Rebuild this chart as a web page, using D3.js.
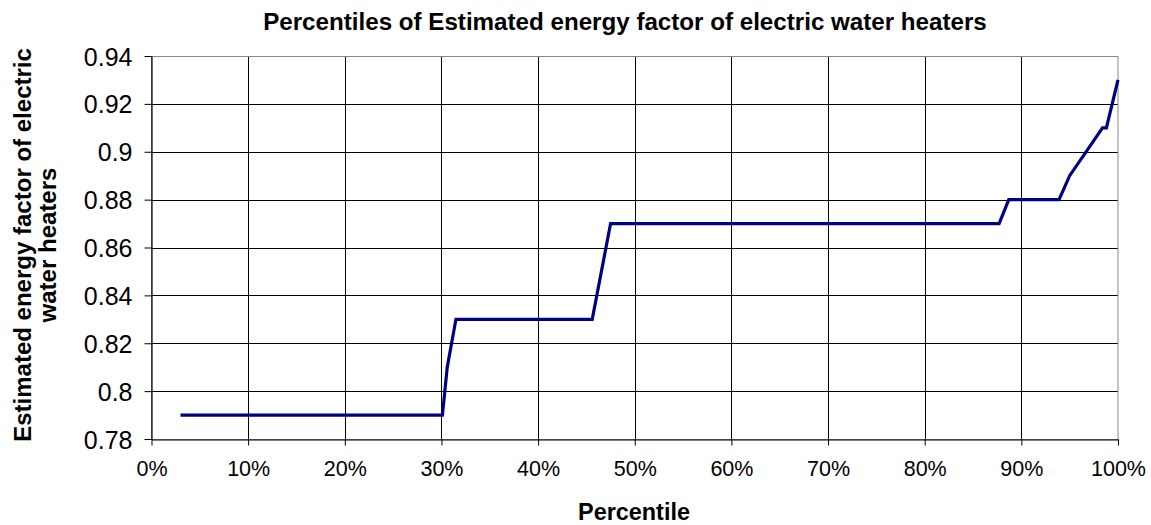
<!DOCTYPE html>
<html>
<head>
<meta charset="utf-8">
<script src="https://cdn.jsdelivr.net/npm/d3@7"></script>
<style>
  html, body { margin: 0; padding: 0; background: #fff; }
  svg { display: block; font-family: Arial, "Liberation Sans", sans-serif; }
</style>
</head>
<body>
<svg id="chart" width="1151" height="525"></svg>
<script>
// Data
const percentiles = [3, 30.1, 30.6, 31.5, 45.6, 47.5, 87.7, 88.7, 93.9, 95.0, 98.4, 98.8, 100];
const energyFactor = [0.79, 0.79, 0.81, 0.83, 0.83, 0.87, 0.87, 0.88, 0.88, 0.89, 0.91, 0.91, 0.93];
const xTicks = [0, 10, 20, 30, 40, 50, 60, 70, 80, 90, 100];
const yTicks = [0.78, 0.80, 0.82, 0.84, 0.86, 0.88, 0.90, 0.92, 0.94];
const yTickLabels = ["0.78", "0.8", "0.82", "0.84", "0.86", "0.88", "0.9", "0.92", "0.94"];
const titleText = "Percentiles of Estimated energy factor of electric water heaters";
const xTitle = "Percentile";
const yTitleLines = ["Estimated energy factor of electric", "water heaters"];

const svg = d3.select("#chart");
const L = 151.5, R = 1118, T = 56, B = 439;

const x = d3.scaleLinear().domain([0, 100]).range([L, R]);
const y = d3.scaleLinear().domain([0.78, 0.94]).range([B, T]);

// gridlines
const g = svg.append("g");
g.selectAll("line.v").data(xTicks.slice(1, -1)).join("line")
  .attr("x1", d => Math.round(x(d)) + 0.5).attr("x2", d => Math.round(x(d)) + 0.5)
  .attr("y1", T).attr("y2", B).attr("stroke", "#000").attr("stroke-width", 1);
g.selectAll("line.h").data(yTicks.slice(1, -1)).join("line")
  .attr("y1", d => Math.round(y(d)) + 0.5).attr("y2", d => Math.round(y(d)) + 0.5)
  .attr("x1", L).attr("x2", R).attr("stroke", "#000").attr("stroke-width", 1);
// plot border (top/right gray)
svg.append("rect").attr("x", L).attr("y", T + 0.5).attr("width", R - L).attr("height", B - T)
  .attr("fill", "none").attr("stroke", "#888").attr("stroke-width", 1);

// axes
const xAxis = svg.append("g").attr("transform", `translate(0,${B + 0.5})`)
  .call(d3.axisBottom(x).tickValues(xTicks).tickSize(6).tickSizeOuter(0).tickPadding(15)
    .tickFormat(d => d + "%"));
const yAxis = svg.append("g").attr("transform", `translate(${L},0)`)
  .call(d3.axisLeft(y).tickValues(yTicks).tickSize(7).tickSizeOuter(0).tickPadding(12)
    .tickFormat((d, i) => yTickLabels[i]));
[xAxis, yAxis].forEach(a => {
  a.select(".domain").attr("stroke", "#000").attr("stroke-width", 1.2);
  a.selectAll(".tick line").attr("stroke", "#000");
  a.selectAll("text").attr("fill", "#000").attr("font-family", "Arial, 'Liberation Sans', sans-serif");
});
xAxis.selectAll("text").attr("font-size", 21.5);
yAxis.selectAll("text").attr("font-size", 25).attr("dy", "0.36em");

// line
const line = d3.line().x(d => x(d[0])).y(d => y(d[1]));
svg.append("path")
  .datum(percentiles.map((p, i) => [p, energyFactor[i]]))
  .attr("d", line).attr("fill", "none").attr("stroke", "#000080")
  .attr("stroke-width", 3.2).attr("stroke-linejoin", "miter");

// titles
function fitText(sel, target) {
  const w = sel.node().getComputedTextLength();
  const fs = parseFloat(sel.attr("font-size"));
  sel.attr("font-size", fs * target / w);
}
const t = svg.append("text").attr("x", 625).attr("y", 30).attr("text-anchor", "middle")
  .attr("font-weight", "bold").attr("font-size", 16).text(titleText);
fitText(t, 724);

const xt = svg.append("text").attr("x", 634).attr("y", 520).attr("text-anchor", "middle")
  .attr("font-weight", "bold").attr("font-size", 21).text(xTitle);
fitText(xt, 112);

const yt = svg.append("text").attr("transform", "translate(0,245) rotate(-90)")
  .attr("text-anchor", "middle").attr("font-weight", "bold").attr("font-size", 20);
yt.selectAll("tspan").data(yTitleLines).join("tspan")
  .attr("x", 0).text(d => d);
const w0 = yt.select("tspan").node().getComputedTextLength();
const yfs = 20 * 394 / w0;
yt.attr("font-size", yfs);
yt.selectAll("tspan").attr("y", (d, i) => [22, 47][i] + 0.36 * yfs);
</script>
</body>
</html>
